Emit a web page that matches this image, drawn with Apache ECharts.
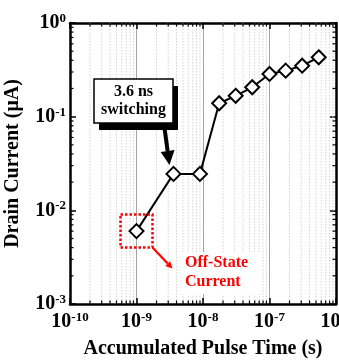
<!DOCTYPE html>
<html>
<head>
<meta charset="utf-8">
<script src="https://cdn.jsdelivr.net/npm/echarts@6/dist/echarts.min.js"></script>
<style>
  html, body { margin: 0; padding: 0; background: #fff; }
  #chart { width: 339px; height: 360px; }
</style>
</head>
<body>
<div id="chart"></div>
<script>
// Accumulated pulse time (s) and drain current (µA)
const pulseTime = [1e-9, 3.6e-9, 9e-9, 1.75e-8, 3.1e-8, 5.5e-8, 1e-7, 1.75e-7, 3.1e-7, 5.5e-7];
const drainCurrent = [0.006, 0.0245, 0.0245, 0.139, 0.167, 0.206, 0.286, 0.31, 0.35, 0.43];

// Axis ranges and decade positions
const xDecades = [1e-10, 1e-9, 1e-8, 1e-7];
const yDecades = [1e-3, 1e-2, 1e-1];
const minorMultiples = [2, 3, 4, 5, 6, 7, 8, 9];
const xMin = 1e-10, xMax = 1e-6;
const yMin = 1e-3, yMax = 1;

const FONT = "'Liberation Serif', 'Times New Roman', serif";

const chart = echarts.init(document.getElementById('chart'));

function powerLabel(v) {
  const e = Math.round(Math.log10(v));
  return '{b|10}{s|' + e + '}';
}
const richPow = {
  b: { fontFamily: FONT, fontWeight: 'bold', fontSize: 20, color: '#000', lineHeight: 22 },
  s: { fontFamily: FONT, fontWeight: 'bold', fontSize: 13, color: '#000', verticalAlign: 'top', lineHeight: 13 }
};

// minor tick rows: [x, y, kind] ; kind 0 = vertical (x), 1 = horizontal (y)
const minorData = [];
xDecades.forEach(d => minorMultiples.forEach(m => minorData.push([d * m, yMin, 0])));
yDecades.forEach(d => minorMultiples.forEach(m => minorData.push([xMin, d * m, 1])));

const frameLine = { show: true, onZero: false, lineStyle: { color: '#000', width: 2.5 } };
const majorTick = { show: true, inside: true, length: 6, lineStyle: { color: '#000', width: 1.5 } };

chart.setOption({
  animation: false,
  grid: { left: 70, top: 23, right: 3, bottom: 56, containLabel: false, outerBoundsMode: 'none' },
  xAxis: [
    {
      type: 'log', logBase: 10, min: xMin, max: xMax, splitNumber: 4,
      position: 'bottom',
      axisLine: frameLine, axisTick: majorTick,
      axisLabel: { formatter: powerLabel, rich: richPow, margin: 7, showMinLabel: true, showMaxLabel: true, hideOverlap: false },
      splitLine: { show: true, lineStyle: { color: '#a6a6a6', width: 1 } },
      name: 'Accumulated Pulse Time (s)', nameLocation: 'middle', nameGap: 35,
      nameTextStyle: { fontFamily: FONT, fontWeight: 'bold', fontSize: 20, color: '#000' }
    },
    {
      type: 'log', logBase: 10, min: xMin, max: xMax, splitNumber: 4,
      position: 'top',
      axisLine: frameLine, axisTick: majorTick,
      axisLabel: { show: false }, splitLine: { show: false }
    }
  ],
  yAxis: [
    {
      type: 'log', logBase: 10, min: yMin, max: yMax, splitNumber: 3,
      position: 'left',
      axisLine: frameLine, axisTick: majorTick,
      axisLabel: { formatter: powerLabel, rich: richPow, margin: 4, showMinLabel: true, showMaxLabel: true, hideOverlap: false },
      splitLine: { show: false },
      name: 'Drain Current (μA)', nameLocation: 'middle', nameGap: 47,
      nameTextStyle: { fontFamily: FONT, fontWeight: 'bold', fontSize: 20, color: '#000' }
    },
    {
      type: 'log', logBase: 10, min: yMin, max: yMax, splitNumber: 3,
      position: 'right',
      axisLine: frameLine, axisTick: majorTick,
      axisLabel: { show: false }, splitLine: { show: false }
    }
  ],
  series: [
    {
      // minor grid lines and minor ticks on every side
      type: 'custom',
      silent: true,
      clip: false,
      z: 1,
      data: minorData,
      renderItem: function (params, api) {
        const cs = params.coordSys;
        const left = cs.x, top = cs.y, right = cs.x + cs.width, bottom = cs.y + cs.height;
        const kind = api.value(2);
        const tickStyle = { stroke: '#000', lineWidth: 1.2 };
        if (kind === 0) {
          const px = api.coord([api.value(0), yMin])[0];
          return {
            type: 'group',
            children: [
              { type: 'line', shape: { x1: px, y1: top, x2: px, y2: bottom },
                style: { stroke: '#d4d4d4', lineWidth: 1, lineDash: [1.5, 1.5] } },
              { type: 'line', shape: { x1: px, y1: bottom, x2: px, y2: bottom - 3.5 }, style: tickStyle },
              { type: 'line', shape: { x1: px, y1: top, x2: px, y2: top + 3.5 }, style: tickStyle }
            ]
          };
        }
        const py = api.coord([xMin, api.value(1)])[1];
        return {
          type: 'group',
          children: [
            { type: 'line', shape: { x1: left, y1: py, x2: left + 3.5, y2: py }, style: tickStyle },
            { type: 'line', shape: { x1: right, y1: py, x2: right - 3.5, y2: py }, style: tickStyle }
          ]
        };
      }
    },
    {
      type: 'line',
      z: 5,
      data: pulseTime.map((t, i) => [t, drainCurrent[i]]),
      lineStyle: { color: '#000', width: 2 },
      symbol: 'diamond',
      symbolSize: 14,
      itemStyle: { color: '#fff', borderColor: '#000', borderWidth: 2 }
    }
  ]
});

// Annotations anchored to the points they describe
const pOff = chart.convertToPixel({ xAxisIndex: 0, yAxisIndex: 0 }, [pulseTime[0], drainCurrent[0]]);
const pSw = chart.convertToPixel({ xAxisIndex: 0, yAxisIndex: 0 }, [pulseTime[1], drainCurrent[1]]);

// black pointer toward the switching point
const tail = [pSw[0] - 9, pSw[1] - 46];
const tip = [pSw[0] - 4, pSw[1] - 9];
const dx = tip[0] - tail[0], dy = tip[1] - tail[1];
const len = Math.hypot(dx, dy);
const ux = dx / len, uy = dy / len;
const headLen = 14, headHalf = 7;
const base = [tip[0] - ux * headLen, tip[1] - uy * headLen];

// red pointer from the dotted box toward the label
const boxW = 32, boxH = 33;
const boxX = pOff[0] - boxW / 2, boxY = pOff[1] - boxH / 2;
const rTail = [boxX + boxW, boxY + boxH];
const rTip = [rTail[0] + 20, rTail[1] + 21];
const rdx = rTip[0] - rTail[0], rdy = rTip[1] - rTail[1];
const rlen = Math.hypot(rdx, rdy);
const rux = rdx / rlen, ruy = rdy / rlen;
const rHead = 7, rHalf = 3.5;
const rBase = [rTip[0] - rux * rHead, rTip[1] - ruy * rHead];

chart.setOption({
  graphic: [
    {
      // drop shadow of the callout
      type: 'rect', z: 10,
      shape: { x: 99, y: 86, width: 79, height: 44 },
      style: { fill: '#000' }
    },
    {
      type: 'rect', z: 10,
      shape: { x: 94, y: 79, width: 79, height: 44 },
      style: { fill: '#fff', stroke: '#000', lineWidth: 1.5 }
    },
    {
      type: 'text', z: 11,
      x: 133.5, y: 101,
      style: { text: '3.6 ns\nswitching', fontFamily: FONT, fontWeight: 'bold', fontSize: 16,
               lineHeight: 18, fill: '#000', align: 'center', verticalAlign: 'middle' }
    },
    {
      type: 'line', z: 10,
      shape: { x1: tail[0], y1: tail[1], x2: base[0], y2: base[1] },
      style: { stroke: '#000', lineWidth: 4 }
    },
    {
      type: 'polygon', z: 10,
      shape: { points: [
        tip,
        [base[0] + uy * headHalf, base[1] - ux * headHalf],
        [base[0] - uy * headHalf, base[1] + ux * headHalf]
      ] },
      style: { fill: '#000' }
    },
    {
      type: 'rect', z: 10,
      shape: { x: boxX, y: boxY, width: boxW, height: boxH },
      style: { fill: 'none', stroke: '#ff0000', lineWidth: 2.5, lineDash: [2.5, 2] }
    },
    {
      type: 'line', z: 10,
      shape: { x1: rTail[0], y1: rTail[1], x2: rBase[0], y2: rBase[1] },
      style: { stroke: '#ff0000', lineWidth: 2.2 }
    },
    {
      type: 'polygon', z: 10,
      shape: { points: [
        rTip,
        [rBase[0] + ruy * rHalf, rBase[1] - rux * rHalf],
        [rBase[0] - ruy * rHalf, rBase[1] + rux * rHalf]
      ] },
      style: { fill: '#ff0000' }
    },
    {
      type: 'rect', z: 10,
      shape: { x: 181, y: 252, width: 80, height: 42 },
      style: { fill: '#fff' }
    },
    {
      type: 'text', z: 11,
      x: 185, y: 272.5,
      style: { text: 'Off-State\nCurrent', fontFamily: FONT, fontWeight: 'bold', fontSize: 16,
               lineHeight: 19.5, fill: '#ff0000', align: 'left', verticalAlign: 'middle' }
    }
  ]
});
</script>
</body>
</html>
